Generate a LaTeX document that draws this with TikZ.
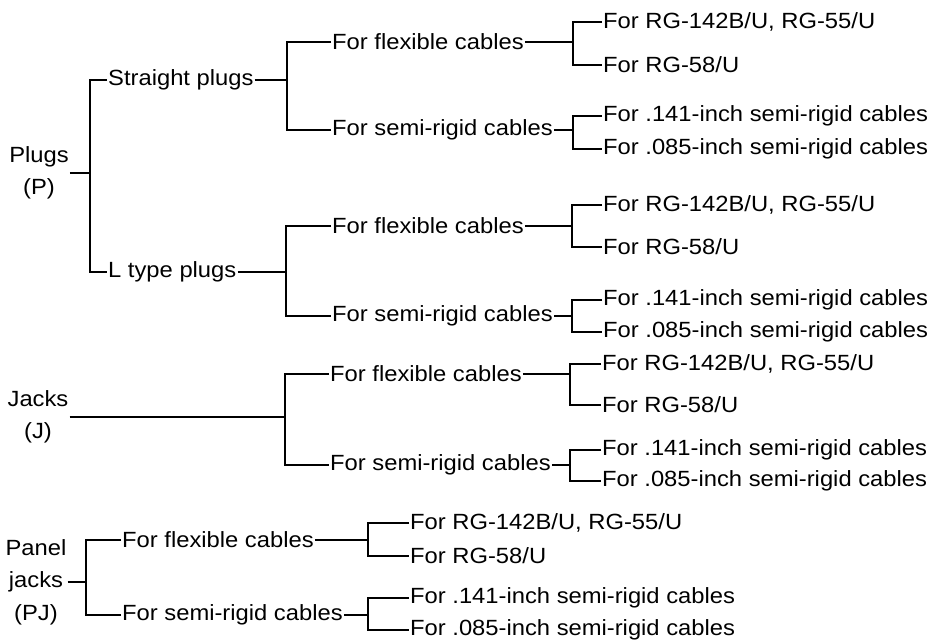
\documentclass[tikz,border=0pt]{standalone}
\usepackage{fontspec}
\setmainfont{Liberation Sans}[FakeStretch=1.08]
\begin{document}
\begin{tikzpicture}[x=1pt,y=-1pt,
  lbl/.style={anchor=west, inner xsep=1pt, inner ysep=0pt, font=\fontsize{22}{32.5}\selectfont},
  root/.style={align=center, inner sep=1pt, font=\fontsize{22}{32.5}\selectfont},
  conn/.style={line width=1.4pt}]
\useasboundingbox (0,0) rectangle (931,642);

% ---------- Plugs ----------
\node[root] (P) at (39,173) {Plugs\\(P)};
\coordinate (b0) at (90,173);
\node[lbl] (sp) at (107,80) {Straight plugs};
\node[lbl] (lt) at (107,272) {L type plugs};

\coordinate (b1) at (287,82);
\node[lbl] (f1) at (331,42) {For flexible cables};
\node[lbl] (s1) at (331,130) {For semi-rigid cables};

\coordinate (b2) at (286,275);
\node[lbl] (f2) at (331,226) {For flexible cables};
\node[lbl] (s2) at (331,316) {For semi-rigid cables};

\coordinate (c1) at (573,43);
\node[lbl] (f1a) at (602,22) {For RG-142B/U, RG-55/U};
\node[lbl] (f1b) at (602,65) {For RG-58/U};
\coordinate (c2) at (573,135);
\node[lbl] (s1a) at (602,116) {For .141-inch semi-rigid cables};
\node[lbl] (s1b) at (602,149) {For .085-inch semi-rigid cables};
\coordinate (c3) at (572,226);
\node[lbl] (f2a) at (602,205) {For RG-142B/U, RG-55/U};
\node[lbl] (f2b) at (602,247) {For RG-58/U};
\coordinate (c4) at (572,316);
\node[lbl] (s2a) at (602,300) {For .141-inch semi-rigid cables};
\node[lbl] (s2b) at (602,332) {For .085-inch semi-rigid cables};

% ---------- Jacks ----------
\node[root] (J) at (38,417) {Jacks\\(J)};
\coordinate (b3) at (285,416);
\node[lbl] (f3) at (329,374) {For flexible cables};
\node[lbl] (s3) at (329,465) {For semi-rigid cables};
\coordinate (c5) at (570,375);
\node[lbl] (f3a) at (601,364) {For RG-142B/U, RG-55/U};
\node[lbl] (f3b) at (601,405) {For RG-58/U};
\coordinate (c6) at (570,467);
\node[lbl] (s3a) at (601,450) {For .141-inch semi-rigid cables};
\node[lbl] (s3b) at (601,481) {For .085-inch semi-rigid cables};

% ---------- Panel jacks ----------
\node[root] (PJ) at (36,582) {Panel\\jacks\\(PJ)};
\coordinate (b4) at (86,582);
\node[lbl] (f4) at (121,540) {For flexible cables};
\node[lbl] (s4) at (121,615) {For semi-rigid cables};
\coordinate (c7) at (368,540);
\node[lbl] (f4a) at (409,523) {For RG-142B/U, RG-55/U};
\node[lbl] (f4b) at (409,556) {For RG-58/U};
\coordinate (c8) at (368,615);
\node[lbl] (s4a) at (409,598) {For .141-inch semi-rigid cables};
\node[lbl] (s4b) at (409,630) {For .085-inch semi-rigid cables};

% ---------- connectors ----------
\begin{scope}[conn]
\draw (P.east) -- (P.east -| b0);
\draw (sp.west) -| (b0) |- (lt.west);
\draw (sp.east) -- (sp.east -| b1);
\draw (f1.west) -| (b1) |- (s1.west);
\draw (lt.east) -- (lt.east -| b2);
\draw (f2.west) -| (b2) |- (s2.west);
\draw (f1.east) -- (f1.east -| c1);
\draw (f1a.west) -| (c1) |- (f1b.west);
\draw (s1.east) -- (s1.east -| c2);
\draw (s1a.west) -| (c2) |- (s1b.west);
\draw (f2.east) -- (f2.east -| c3);
\draw (f2a.west) -| (c3) |- (f2b.west);
\draw (s2.east) -- (s2.east -| c4);
\draw (s2a.west) -| (c4) |- (s2b.west);

\draw (J.east) -- (J.east -| b3);
\draw (f3.west) -| (b3) |- (s3.west);
\draw (f3.east) -- (f3.east -| c5);
\draw (f3a.west) -| (c5) |- (f3b.west);
\draw (s3.east) -- (s3.east -| c6);
\draw (s3a.west) -| (c6) |- (s3b.west);

\draw (PJ.east) -- (PJ.east -| b4);
\draw (f4.west) -| (b4) |- (s4.west);
\draw (f4.east) -- (f4.east -| c7);
\draw (f4a.west) -| (c7) |- (f4b.west);
\draw (s4.east) -- (s4.east -| c8);
\draw (s4a.west) -| (c8) |- (s4b.west);
\end{scope}
\end{tikzpicture}
\end{document}
